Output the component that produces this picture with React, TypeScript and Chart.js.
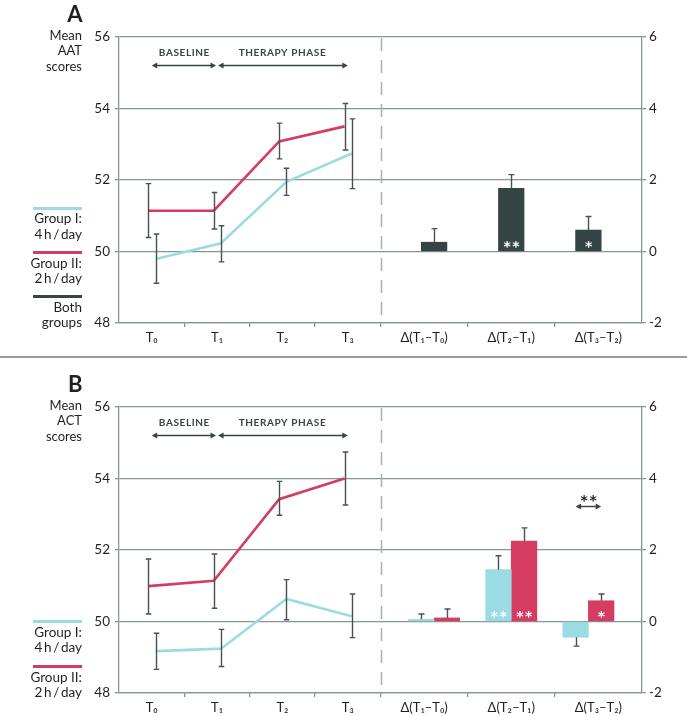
import React, { useEffect, useRef } from "react";
import { Chart, registerables } from "chart.js";

Chart.register(...registerables);

// ---------------- shared axis content ----------------
const timeLabels = ["T₀", "T₁", "T₂", "T₃"];
const deltaLabels = ["Δ(T₁–T₀)", "Δ(T₂–T₁)", "Δ(T₃–T₂)"];
const scoreMin = 48;
const scoreMax = 56;
const changeMin = -2;
const changeMax = 6;
const tickStep = 2;

// ---------------- Panel A : AAT ----------------
const aatGroupI = [49.79, 50.23, 51.95, 52.74];
const aatGroupILow = [49.11, 49.71, 51.57, 51.76];
const aatGroupIHigh = [50.49, 50.72, 52.33, 53.71];
const aatGroupII = [51.14, 51.14, 53.08, 53.5];
const aatGroupIILow = [50.39, 50.63, 52.59, 52.84];
const aatGroupIIHigh = [51.9, 51.65, 53.59, 54.14];
const aatBothChange = [0.26, 1.77, 0.6];
const aatBothChangeErr = [0.64, 2.15, 0.98];
const aatBothSig = ["", "**", "*"];

// ---------------- Panel B : ACT ----------------
const actGroupI = [49.17, 49.24, 50.63, 50.15];
const actGroupILow = [48.66, 48.74, 50.05, 49.55];
const actGroupIHigh = [49.67, 49.78, 51.17, 50.77];
const actGroupII = [50.99, 51.14, 53.42, 54.0];
const actGroupIILow = [50.21, 50.37, 52.97, 53.26];
const actGroupIIHigh = [51.75, 51.89, 53.92, 54.74];
const actGroupIChange = [0.06, 1.45, -0.44];
const actGroupIChangeErr = [0.21, 1.84, -0.69];
const actGroupIChangeSig = ["", "**", ""];
const actGroupIIChange = [0.1, 2.25, 0.58];
const actGroupIIChangeErr = [0.35, 2.62, 0.77];
const actGroupIIChangeSig = ["", "**", "*"];
const actBetweenGroupsSig = "**";
const actBetweenGroupsIndex = 2;

// ---------------- layout / style ----------------
const W = 687;
const FONT = "Lato, 'Open Sans', 'DejaVu Sans', sans-serif";
const STAR_FONT = "'DejaVu Sans', sans-serif";
const CYAN = "#9adbe4";
const RED = "#d43c61";
const DARK = "#354546";
const GRID = "#879595";
const ERR = "#485252";
const TEXT = "#231f20";
const X_MIN = 0;
const X_MAX = 8;
const SPLIT = 4;
const timeSlots = [0.5, 1.5, 2.5, 3.5];
const deltaSlots = [4 + 2 / 3, 6, 8 - 2 / 3];
const barSlots = [4.82, 6, 7.18];
const boundaryTicks = [1, 2, 3, 4, 4 + 4 / 3, 4 + 8 / 3];
const RED_SHIFT = -0.05;
const CYAN_SHIFT = 0.06;
const X2_H = 4;
const X_H = 30;

type LineSeries = { values: number[]; low: number[]; high: number[]; color: string; shift: number };
type BarSeries = { values: number[]; err: number[]; sig: string[]; color: string };
type PanelSpec = {
  letter: string;
  title: string[];
  top: number;
  chartTop: number;
  chartBottom: number;
  legend: { color: string; lines: string[]; y: number }[];
  lines: LineSeries[];
  bars: BarSeries[];
  between?: { index: number; text: string; textLevel: number; arrowLevel: number };
};

function arrowHead(ctx: CanvasRenderingContext2D, x: number, y: number, dir: number) {
  ctx.beginPath();
  ctx.moveTo(x, y);
  ctx.lineTo(x - dir * 5.5, y - 3);
  ctx.lineTo(x - dir * 5.5, y + 3);
  ctx.closePath();
  ctx.fill();
}

function doubleArrow(ctx: CanvasRenderingContext2D, x1: number, x2: number, y: number) {
  ctx.beginPath();
  ctx.moveTo(x1 + 4, y);
  ctx.lineTo(x2 - 4, y);
  ctx.stroke();
  arrowHead(ctx, x1, y, -1);
  arrowHead(ctx, x2, y, 1);
}

function makeOverlay(p: PanelSpec) {
  return {
    id: "overlay" + p.letter,
    afterDatasetsDraw(chart: any) {
      const ctx: CanvasRenderingContext2D = chart.ctx;
      const a = chart.chartArea;
      const xs = chart.scales.x;
      const ys = chart.scales.y;
      const y2 = chart.scales.y2;
      ctx.save();

      // dashed section separator
      const sx = Math.round(xs.getPixelForValue(SPLIT)) + 0.5;
      ctx.strokeStyle = "#a9b0b0";
      ctx.lineWidth = 1.5;
      ctx.setLineDash([13, 9]);
      ctx.beginPath();
      ctx.moveTo(sx, a.top + 1);
      ctx.lineTo(sx, a.bottom);
      ctx.stroke();
      ctx.setLineDash([]);

      // error bars of the line series
      ctx.strokeStyle = ERR;
      ctx.lineWidth = 1.4;
      p.lines.forEach((s, k) => {
        const meta = chart.getDatasetMeta(k);
        meta.data.forEach((pt: any, i: number) => {
          const x = Math.round(pt.x) + 0.5;
          const yl = ys.getPixelForValue(s.low[i]);
          const yh = ys.getPixelForValue(s.high[i]);
          ctx.beginPath();
          ctx.moveTo(x, yl);
          ctx.lineTo(x, yh);
          ctx.moveTo(x - 2.8, yl);
          ctx.lineTo(x + 2.8, yl);
          ctx.moveTo(x - 2.8, yh);
          ctx.lineTo(x + 2.8, yh);
          ctx.stroke();
        });
      });

      // error bars + significance marks of the bar series
      p.bars.forEach((s, k) => {
        const meta = chart.getDatasetMeta(p.lines.length + k);
        meta.data.forEach((bar: any, i: number) => {
          const x = Math.round(bar.x) + 0.5;
          const yv = y2.getPixelForValue(s.values[i]);
          const ye = y2.getPixelForValue(s.err[i]);
          ctx.strokeStyle = ERR;
          ctx.lineWidth = 1.4;
          ctx.beginPath();
          ctx.moveTo(x, yv);
          ctx.lineTo(x, ye);
          ctx.moveTo(x - 3, ye);
          ctx.lineTo(x + 3, ye);
          ctx.stroke();
          if (s.sig[i]) {
            ctx.fillStyle = "#ffffff";
            ctx.font = `bold 14px ${STAR_FONT}`;
            ctx.textAlign = "center";
            ctx.textBaseline = "alphabetic";
            (ctx as any).letterSpacing = "1.5px";
            ctx.fillText(s.sig[i], bar.x + 1, y2.getPixelForValue(0) - 1);
            (ctx as any).letterSpacing = "0px";
          }
        });
      });

      // between-group comparison
      if (p.between) {
        const b0 = chart.getDatasetMeta(p.lines.length).data[p.between.index];
        const b1 = chart.getDatasetMeta(p.lines.length + 1).data[p.between.index];
        const ya = Math.round(y2.getPixelForValue(p.between.arrowLevel)) + 0.5;
        ctx.strokeStyle = "#3d4646";
        ctx.fillStyle = "#3d4646";
        ctx.lineWidth = 1.5;
        doubleArrow(ctx, b0.x, b1.x, ya);
        ctx.fillStyle = TEXT;
        ctx.font = `bold 14px ${STAR_FONT}`;
        ctx.textAlign = "center";
        ctx.textBaseline = "alphabetic";
        (ctx as any).letterSpacing = "1.5px";
        ctx.fillText(p.between.text, (b0.x + b1.x) / 2 + 1, y2.getPixelForValue(p.between.textLevel) + 9);
        (ctx as any).letterSpacing = "0px";
      }

      // phase annotations
      const px = timeSlots.map((v) => xs.getPixelForValue(v));
      const yText = a.top + 16;
      const yArrow = Math.round(a.top + 27.5) + 0.5;
      ctx.fillStyle = "#3a4444";
      ctx.strokeStyle = "#3a4444";
      ctx.lineWidth = 1.5;
      doubleArrow(ctx, px[0], px[1] - 1, yArrow);
      doubleArrow(ctx, px[1] + 1, px[3], yArrow);
      ctx.font = `bold 10px ${FONT}`;
      ctx.textAlign = "center";
      ctx.textBaseline = "middle";
      (ctx as any).letterSpacing = "0.6px";
      ctx.fillText("BASELINE", (px[0] + px[1]) / 2, yText);
      ctx.fillText("THERAPY PHASE", (px[1] + px[3]) / 2, yText);
      (ctx as any).letterSpacing = "0px";
      ctx.restore();
    },
  };
}

function canvasHeight(p: PanelSpec) {
  return p.chartBottom + X2_H + X_H + 2;
}

function buildConfig(p: PanelSpec): any {
  const lineSets = p.lines.map((s) => ({
    type: "line",
    data: timeSlots.map((t, i) => ({ x: t + s.shift, y: s.values[i] })),
    borderColor: s.color,
    backgroundColor: s.color,
    borderWidth: 2.6,
    pointRadius: 0,
    tension: 0,
    fill: false,
    xAxisID: "x",
    yAxisID: "y",
  }));
  const barSets = p.bars.map((s) => ({
    type: "bar",
    data: barSlots.map((t, i) => ({ x: t, y: s.values[i] })),
    backgroundColor: s.color,
    borderWidth: 0,
    barThickness: 25.6,
    grouped: true,
    xAxisID: "x",
    yAxisID: "y2",
  }));
  const allLabels = [...timeLabels, ...deltaLabels];
  const labelSlots = [...timeSlots, ...deltaSlots];
  const gridW = 1.3;
  return {
    type: "bar",
    data: { datasets: [...lineSets, ...barSets] },
    options: {
      responsive: false,
      animation: false,
      events: [],
      layout: {
        padding: { top: p.chartTop, left: 0, right: 0, bottom: 2 },
      },
      plugins: { legend: { display: false }, tooltip: { enabled: false } },
      scales: {
        x2: {
          type: "linear",
          position: "bottom",
          min: X_MIN,
          max: X_MAX,
          offset: false,
          weight: 0,
          afterBuildTicks: (s: any) => {
            s.ticks = boundaryTicks.map((v) => ({ value: v }));
          },
          afterFit: (s: any) => {
            s.height = X2_H;
          },
          ticks: { display: false, autoSkip: false },
          grid: { drawOnChartArea: false, drawTicks: true, tickLength: 4, color: GRID, lineWidth: gridW, offset: false },
          border: { display: true, color: GRID, width: gridW },
        },
        x: {
          type: "linear",
          position: "bottom",
          min: X_MIN,
          max: X_MAX,
          offset: false,
          weight: 10,
          afterBuildTicks: (s: any) => {
            s.ticks = labelSlots.map((v) => ({ value: v }));
          },
          afterFit: (s: any) => {
            s.height = X_H;
          },
          ticks: {
            autoSkip: false,
            maxRotation: 0,
            minRotation: 0,
            padding: -5,
            color: TEXT,
            font: { family: FONT, size: 13 },
            callback: (_v: any, i: number) => allLabels[i],
          },
          grid: { display: false, offset: false },
          border: { display: false },
        },
        y: {
          type: "linear",
          position: "left",
          min: scoreMin,
          max: scoreMax,
          afterFit: (s: any) => {
            s.width = 119;
          },
          ticks: { stepSize: tickStep, padding: 5, color: TEXT, font: { family: FONT, size: 13.5 } },
          grid: { color: GRID, lineWidth: gridW, tickLength: 4, drawTicks: true },
          border: { display: true, color: GRID, width: gridW },
        },
        y2: {
          type: "linear",
          position: "right",
          min: changeMin,
          max: changeMax,
          afterFit: (s: any) => {
            s.width = W - 642;
          },
          ticks: { stepSize: tickStep, padding: 3, color: TEXT, font: { family: FONT, size: 13.5 } },
          grid: { drawOnChartArea: false, color: GRID, lineWidth: gridW, tickLength: 4, drawTicks: true },
          border: { display: true, color: GRID, width: gridW },
        },
      },
    },
    plugins: [makeOverlay(p)],
  };
}

const panelA: PanelSpec = {
  letter: "A",
  title: ["Mean", "AAT", "scores"],
  top: 0,
  chartTop: 37,
  chartBottom: 323,
  legend: [
    { color: CYAN, lines: ["Group I:", "4\u2009h\u2009/\u2009day"], y: 208.3 },
    { color: RED, lines: ["Group II:", "2\u2009h\u2009/\u2009day"], y: 252.7 },
    { color: DARK, lines: ["Both", "groups"], y: 296.7 },
  ],
  lines: [
    { values: aatGroupII, low: aatGroupIILow, high: aatGroupIIHigh, color: RED, shift: RED_SHIFT },
    { values: aatGroupI, low: aatGroupILow, high: aatGroupIHigh, color: CYAN, shift: CYAN_SHIFT },
  ],
  bars: [{ values: aatBothChange, err: aatBothChangeErr, sig: aatBothSig, color: DARK }],
};

const panelB: PanelSpec = {
  letter: "B",
  title: ["Mean", "ACT", "scores"],
  top: 358,
  chartTop: 49,
  chartBottom: 335,
  legend: [
    { color: CYAN, lines: ["Group I:", "4\u2009h\u2009/\u2009day"], y: 263.7 },
    { color: RED, lines: ["Group II:", "2\u2009h\u2009/\u2009day"], y: 308.7 },
  ],
  lines: [
    { values: actGroupII, low: actGroupIILow, high: actGroupIIHigh, color: RED, shift: RED_SHIFT },
    { values: actGroupI, low: actGroupILow, high: actGroupIHigh, color: CYAN, shift: CYAN_SHIFT },
  ],
  bars: [
    { values: actGroupIChange, err: actGroupIChangeErr, sig: actGroupIChangeSig, color: CYAN },
    { values: actGroupIIChange, err: actGroupIIChangeErr, sig: actGroupIIChangeSig, color: RED },
  ],
  between: { index: actBetweenGroupsIndex, text: actBetweenGroupsSig, textLevel: 3.52, arrowLevel: 3.22 },
};

function Panel({ spec }: { spec: PanelSpec }) {
  const ref = useRef<HTMLCanvasElement>(null);
  const h = canvasHeight(spec);
  useEffect(() => {
    const chart = new Chart(ref.current as HTMLCanvasElement, buildConfig(spec));
    return () => chart.destroy();
  }, [spec]);
  return (
    <div style={{ position: "absolute", left: 0, top: spec.top, width: W, height: h }}>
      <canvas ref={ref} width={W} height={h} style={{ position: "absolute", left: 0, top: 0, width: W, height: h }} />
      <div
        style={{
          position: "absolute",
          left: 0,
          width: 82.5,
          top: spec.chartTop - 34.5,
          fontSize: 22,
          lineHeight: "22px",
          fontWeight: 700,
          textAlign: "right",
        }}
      >
        {spec.letter}
      </div>
      <div
        style={{
          position: "absolute",
          left: 0,
          width: 82,
          top: spec.chartTop - 9.3,
          fontSize: 13,
          lineHeight: "15.5px",
          textAlign: "right",
        }}
      >
        {spec.title.map((t) => (
          <div key={t}>{t}</div>
        ))}
      </div>
      {spec.legend.map((l) => (
        <React.Fragment key={l.lines[0]}>
          <div
            style={{
              position: "absolute",
              left: 33,
              width: 49,
              top: l.y - 1.5,
              height: 3,
              background: l.color,
            }}
          />
          <div
            style={{
              position: "absolute",
              left: 0,
              width: 82,
              top: l.y + 3,
              fontSize: 13.5,
              lineHeight: "15.5px",
              textAlign: "right",
            }}
          >
            {l.lines.map((t) => (
              <div key={t}>{t}</div>
            ))}
          </div>
        </React.Fragment>
      ))}
    </div>
  );
}

export default function App() {
  return (
    <div
      style={{
        position: "fixed",
        left: 0,
        top: 0,
        width: W,
        height: 716,
        background: "#ffffff",
        fontFamily: FONT,
        color: TEXT,
        overflow: "hidden",
      }}
    >
      <Panel spec={panelA} />
      <div style={{ position: "absolute", left: 0, top: 356, width: W, height: 2, background: "#9a9a9a" }} />
      <Panel spec={panelB} />
    </div>
  );
}
